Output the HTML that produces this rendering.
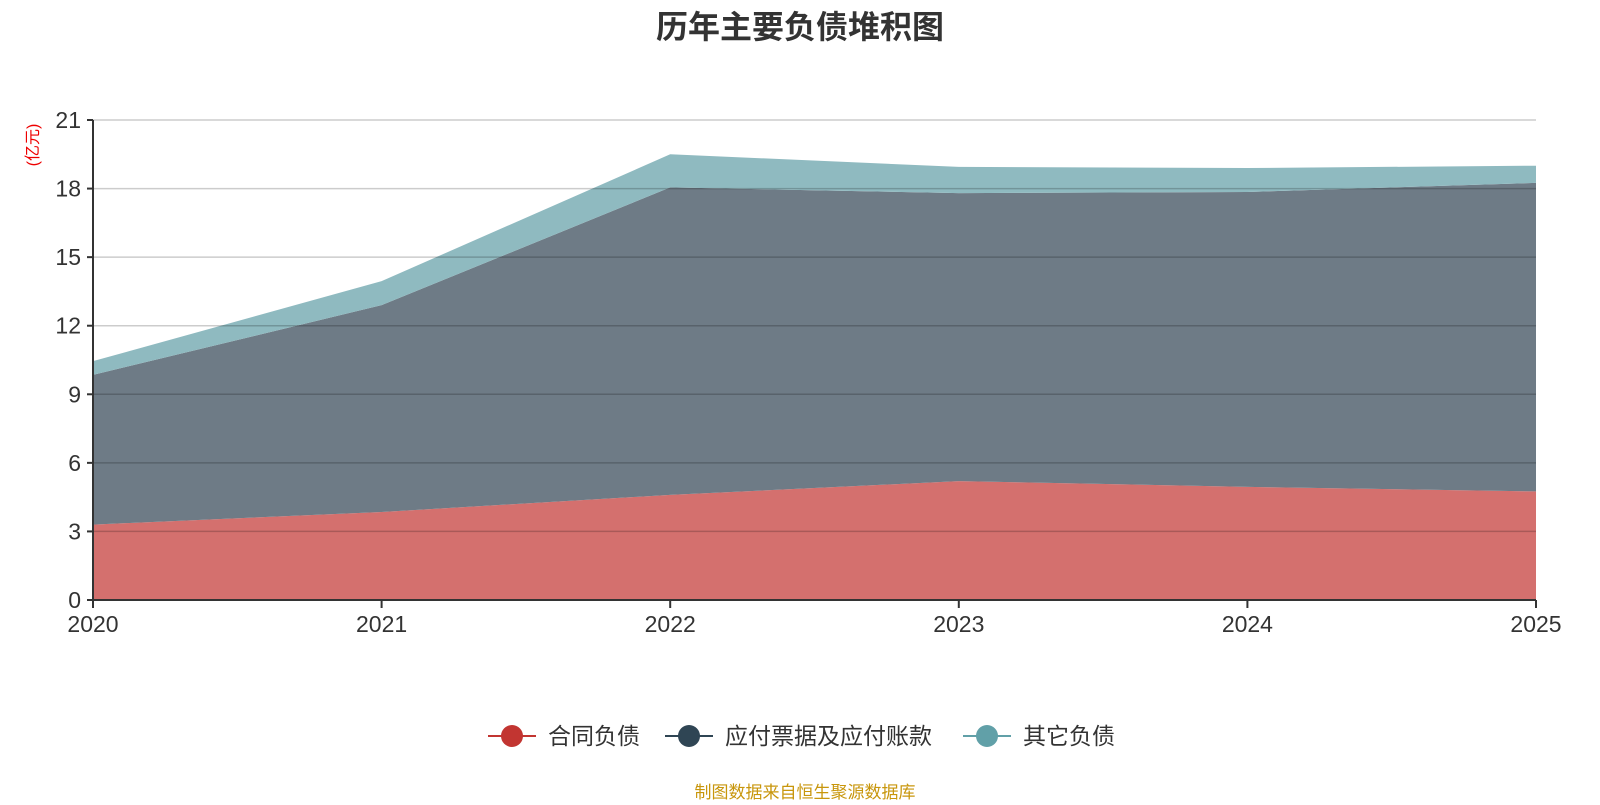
<!DOCTYPE html>
<html><head><meta charset="utf-8"><style>
body{margin:0;background:#fff;width:1600px;height:800px;overflow:hidden;font-family:"Liberation Sans","Noto Sans CJK SC",sans-serif}
</style></head><body>
<svg id="chart" width="1600" height="800" xmlns="http://www.w3.org/2000/svg" font-family="Liberation Sans, Noto Sans CJK SC, sans-serif">
<text x="800" y="38" text-anchor="middle" font-size="32" font-weight="bold" fill="#333">历年主要负债堆积图</text>
<text transform="translate(38,145) rotate(-90)" text-anchor="middle" font-size="16" fill="#e00">(亿元)</text>
<g id="areas"></g><g id="grid"></g><g id="axes"></g>
<g>
<g><line x1="488" y1="736" x2="536" y2="736" stroke="#c23531" stroke-width="2"/><circle cx="512" cy="736" r="11" fill="#c23531"/><text x="548" y="744" font-size="23" fill="#333">合同负债</text></g>
<g><line x1="665" y1="736" x2="713" y2="736" stroke="#2f4554" stroke-width="2"/><circle cx="689" cy="736" r="11" fill="#2f4554"/><text x="725" y="744" font-size="23" fill="#333">应付票据及应付账款</text></g>
<g><line x1="963" y1="736" x2="1011" y2="736" stroke="#61a0a8" stroke-width="2"/><circle cx="987" cy="736" r="11" fill="#61a0a8"/><text x="1023" y="744" font-size="23" fill="#333">其它负债</text></g>
</g>
<text x="805" y="798" text-anchor="middle" font-size="17" fill="#c8960c">制图数据来自恒生聚源数据库</text>
</svg>
<script>
const categories=["2020","2021","2022","2023","2024","2025"];
const contractLiab=[3.3,3.85,4.6,5.2,4.95,4.75];
const payables=[6.55,9.05,13.45,12.6,12.9,13.5];
const otherLiab=[0.6,1.05,1.45,1.15,1.05,0.75];
const yTicks=[0,3,6,9,12,15,18,21];
const NS="http://www.w3.org/2000/svg";
const X0=93,X1=1536,Y0=600,Y1=120,YMAX=21;
const xs=i=>X0+(X1-X0)*i/(categories.length-1);
const ys=v=>Y0-(Y0-Y1)*v/YMAX;
function mk(t,a,p){const e=document.createElementNS(NS,t);for(const k in a)e.setAttribute(k,a[k]);p.appendChild(e);return e;}
const areas=document.getElementById('areas'),grid=document.getElementById('grid'),axes=document.getElementById('axes');
const series=[[contractLiab,'#d4706e','area-contract-liabilities'],[payables,'#6e7b86','area-payables'],[otherLiab,'#8fbac0','area-other-liabilities']];
let base=categories.map(()=>0);
series.forEach(([vals,col,name])=>{
 const top=base.map((b,i)=>b+vals[i]);
 let d='M'+top.map((v,i)=>xs(i)+','+ys(v)).join('L');
 for(let i=categories.length-1;i>=0;i--)d+='L'+xs(i)+','+ys(base[i]);
 const p=mk('path',{d:d+'Z',fill:col},areas);
 
 
 base=top;
});
yTicks.forEach(t=>{
 const y=ys(t);
 if(t>0){const l=mk('line',{x1:X0,x2:X1,y1:y,y2:y,stroke:'rgba(0,0,0,0.2)','stroke-width':1.5},grid);
 
 }
 mk('line',{x1:X0-6,x2:X0,y1:y,y2:y,stroke:'#333','stroke-width':2},axes);
 const tx=mk('text',{x:X0-12,y:y+8,'text-anchor':'end','font-size':23,fill:'#333'},axes);tx.textContent=t;
 
 
});
const ya=mk('line',{x1:X0,x2:X0,y1:Y1,y2:Y0,stroke:'#333','stroke-width':2},axes);


const xa=mk('line',{x1:X0,x2:X1,y1:Y0,y2:Y0,stroke:'#333','stroke-width':2},axes);


categories.forEach((c,i)=>{
 mk('line',{x1:xs(i),x2:xs(i),y1:Y0,y2:Y0+8,stroke:'#333','stroke-width':2},axes);
 const tx=mk('text',{x:xs(i),y:Y0+32,'text-anchor':'middle','font-size':23,fill:'#333'},axes);tx.textContent=c;
 
 
});
</script>
</body></html>
